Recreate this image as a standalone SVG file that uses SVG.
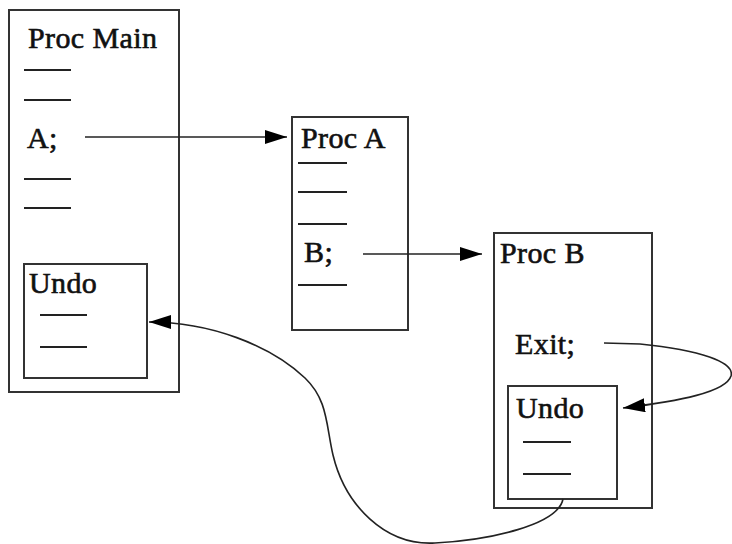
<svg xmlns="http://www.w3.org/2000/svg" width="732" height="544" viewBox="0 0 732 544">
<style>
.box{fill:none;stroke:#333;stroke-width:2}
.ln{stroke:#222;stroke-width:2}
.t{font-family:"Liberation Serif","Times New Roman",serif;font-size:30px;fill:#111;stroke:#111;stroke-width:0.6;letter-spacing:0.4px}
.c{fill:none;stroke:#222;stroke-width:1.6}
</style>
<defs>
<marker id="ah" markerUnits="userSpaceOnUse" markerWidth="24" markerHeight="16" refX="22" refY="7" orient="auto">
<path d="M0,0 L22,7 L0,14 Z" fill="#000"/>
</marker>
</defs>
<rect width="732" height="544" fill="#fff"/>
<g id="proc-main">
<rect class="box" x="9" y="10" width="170" height="382"/>
<text class="t" x="28" y="48">Proc Main</text>
<line class="ln" x1="24" y1="70" x2="71" y2="70"/>
<line class="ln" x1="24" y1="100" x2="71" y2="100"/>
<text class="t" x="27" y="148">A;</text>
<line class="ln" x1="24" y1="179" x2="71" y2="179"/>
<line class="ln" x1="24" y1="208" x2="71" y2="208"/>
</g>
<g id="undo-main">
<rect class="box" x="24" y="264" width="123" height="114"/>
<text class="t" x="29" y="293">Undo</text>
<line class="ln" x1="40" y1="315" x2="87" y2="315"/>
<line class="ln" x1="40" y1="347" x2="87" y2="347"/>
</g>
<g id="proc-a">
<rect class="box" x="292" y="117" width="116" height="213"/>
<text class="t" x="301" y="148">Proc A</text>
<line class="ln" x1="298" y1="163" x2="347" y2="163"/>
<line class="ln" x1="298" y1="192" x2="347" y2="192"/>
<line class="ln" x1="298" y1="224" x2="347" y2="224"/>
<text class="t" x="304" y="262">B;</text>
<line class="ln" x1="298" y1="285" x2="347" y2="285"/>
</g>
<g id="proc-b">
<rect class="box" x="494" y="233" width="158" height="275"/>
<text class="t" x="500" y="263">Proc B</text>
<text class="t" x="515" y="354">Exit;</text>
</g>
<g id="undo-b">
<rect class="box" x="508" y="386" width="109" height="113"/>
<text class="t" x="516" y="418">Undo</text>
<line class="ln" x1="523" y1="442" x2="571" y2="442"/>
<line class="ln" x1="523" y1="474" x2="571" y2="474"/>
</g>
<g id="connectors">
<line class="c" x1="85" y1="137" x2="287" y2="137" marker-end="url(#ah)"/>
<line class="c" x1="363" y1="254" x2="482" y2="254" marker-end="url(#ah)"/>
<path class="c" d="M604,343 L640,344 C700,350 735,362 731,376 C726,392 680,401 623,408" marker-end="url(#ah)"/>
<path class="c" d="M563,499 C558,525 490,540 435,543 C385,546 345,505 333,455 C326,425 328,400 305,378 C270,345 210,322 149,322" marker-end="url(#ah)"/>
</g>
</svg>
